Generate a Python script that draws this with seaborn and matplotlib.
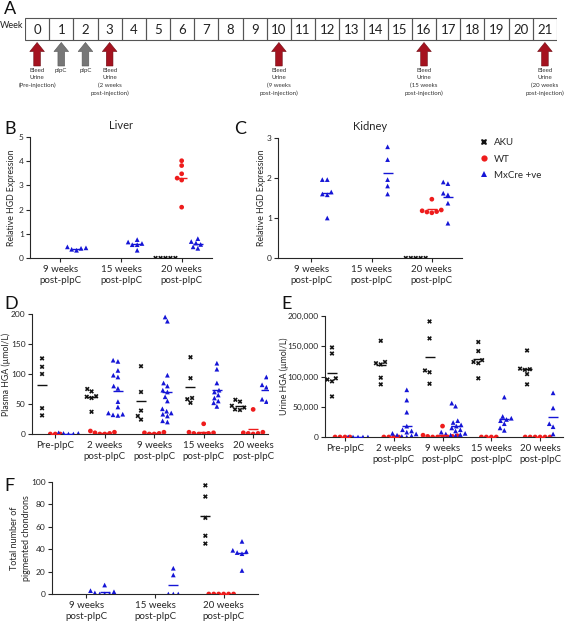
import pandas as pd
import matplotlib
matplotlib.use("Agg")
import matplotlib.pyplot as plt
import seaborn as sns
from matplotlib.lines import Line2D
from matplotlib.ticker import FuncFormatter


# groups and their look
groups = ["AKU", "WT", "MxCre +ve"]
group_colors = {"AKU": "#111111", "WT": "#ee1c1c", "MxCre +ve": "#1515d6"}
group_markers = {"AKU": "X", "WT": "o", "MxCre +ve": "^"}

# timeline (panel A)
weeks = list(range(22))
bleed_weeks = [0, 3, 10, 16, 21]
pipc_weeks = [1, 2]
event_labels = {
    0: "Bleed\nUrine\n(Pre-injection)",
    1: "pIpC",
    2: "pIpC",
    3: "Bleed\nUrine\n(2 weeks\npost-injection)",
    10: "Bleed\nUrine\n(9 weeks\npost-injection)",
    16: "Bleed\nUrine\n(15 weeks\npost-injection)",
    21: "Bleed\nUrine\n(20 weeks\npost-injection)",
}

tissue_times = ["9 weeks\npost-pIpC", "15 weeks\npost-pIpC", "20 weeks\npost-pIpC"]
hga_times = ["Pre-pIpC", "2 weeks\npost-pIpC", "9 weeks\npost-pIpC",
             "15 weeks\npost-pIpC", "20 weeks\npost-pIpC"]

# B - liver HGD expression
liver_aku = [[], [], [0, 0, 0, 0, 0]]
liver_wt = [[], [], [4.02, 3.82, 3.48, 3.3, 3.22, 2.1]]
liver_mx = [[0.46, 0.42, 0.4, 0.36, 0.32],
            [0.76, 0.66, 0.6, 0.55, 0.55, 0.32],
            [0.8, 0.68, 0.62, 0.56, 0.46, 0.4]]

# C - kidney HGD expression
kidney_aku = [[], [], [0, 0, 0, 0, 0]]
kidney_wt = [[], [], [1.47, 1.2, 1.18, 1.16, 1.15, 1.13]]
kidney_mx = [[1.96, 1.96, 1.65, 1.6, 1.58, 1.0],
             [2.78, 2.46, 1.96, 1.8, 1.6],
             [1.9, 1.86, 1.62, 1.58, 1.37, 0.87]]

# D - plasma HGA (umol/L)
plasma_aku = [[126, 112, 100, 43, 31],
              [75, 71, 63, 62, 60, 37],
              [113, 70, 39, 30, 24],
              [128, 93, 60, 58, 52],
              [57, 54, 47, 44, 41, 40]]
plasma_wt = [[0, 0, 0],
             [5, 3, 2, 1, 0, 0],
             [3, 2, 1, 0, 0],
             [17, 3, 2, 1, 1, 0, 0],
             [41, 3, 2, 1, 1, 0]]
plasma_mx = [[2, 1, 1, 0, 0],
             [123, 121, 106, 98, 95, 80, 76, 54, 45, 35, 33, 32, 31],
             [195, 188, 98, 85, 80, 73, 70, 62, 55, 42, 38, 35, 33, 30, 22, 20],
             [118, 108, 85, 73, 70, 65, 60, 55, 52, 46],
             [95, 82, 78, 58, 54]]

# E - urine HGA (umol/L)
urine_aku = [[148000, 138000, 97000, 95000, 92000, 67000],
             [159000, 124000, 122000, 120000, 98000, 87000],
             [191000, 163000, 110000, 107000, 88000],
             [157000, 142000, 127000, 124000, 122000, 97000],
             [143000, 113000, 112000, 111000, 104000, 87000]]
urine_wt = [[0, 0, 0, 0],
            [0, 0, 0, 0],
            [18000, 3000, 2000, 1000, 1000, 0, 0, 0, 0],
            [0, 0, 0, 0],
            [0, 0, 0, 0, 0, 0]]
urine_mx = [[0, 0, 0, 0, 0],
            [78000, 61000, 41000, 18000, 12000, 10000, 8000, 6000, 5000, 3000, 2000, 1000, 0],
            [56000, 51000, 27000, 24000, 20000, 18000, 15000, 12000, 10000, 8000,
             6000, 5000, 4000, 3000, 2000],
            [66000, 34000, 31000, 29000, 27000, 22000, 15000, 11000],
            [73000, 48000, 22000, 17000, 5000]]

# F - pigmented chondrons
chondron_aku = [[], [], [97, 87, 68, 52, 45]]
chondron_wt = [[], [], [0, 0, 0, 0, 0, 0]]
chondron_mx = [[8, 3, 2, 1, 0, 0, 0], [23, 17, 0, 0, 0], [47, 39, 38, 37, 36, 21]]


sns.set_style("ticks")
plt.rcParams["font.family"] = ["Lato", "DejaVu Sans"]
plt.rcParams["axes.linewidth"] = 0.8

W, H = 566, 624
fig = plt.figure(figsize=(W / 100, H / 100), dpi=100)


def box(x0, y0, x1, y1):
    # pixel box -> figure fraction
    return [x0 / W, 1 - y1 / H, (x1 - x0) / W, (y1 - y0) / H]


def long_table(times, aku, wt, mx):
    rows = []
    for g, vals in zip(groups, [aku, wt, mx]):
        for t, v in zip(times, vals):
            for y in v:
                rows.append((t, g, y))
    return pd.DataFrame(rows, columns=["time", "group", "value"])


def draw_panel(ax, df, times):
    for g in groups:
        sub = df[df["group"] == g]
        sns.swarmplot(data=sub, x="time", y="value", hue="group", order=times,
                      hue_order=groups, palette=group_colors, dodge=True,
                      marker=group_markers[g], size=3.4, linewidth=0,
                      legend=False, ax=ax)
    means = df.groupby(["time", "group"], as_index=False)["value"].mean()
    sns.stripplot(data=means, x="time", y="value", hue="group", order=times,
                  hue_order=groups, palette=group_colors, dodge=True, jitter=False,
                  marker="_", size=7.5, linewidth=1.0, legend=False, ax=ax)


def style_axes(ax, xlim, ylim, yticks, ylabel, label_x, label_size=6.3):
    ax.set_xlim(xlim)
    ax.set_ylim(ylim)
    ax.set_yticks(yticks)
    ax.set_xlabel("")
    ax.set_ylabel(ylabel, fontsize=label_size, linespacing=1.45)
    ax.yaxis.set_label_coords(label_x, 0.5)
    ax.patch.set_alpha(0)
    sns.despine(ax=ax)
    ax.tick_params(axis="x", labelsize=7, length=3, width=0.8, pad=2)
    ax.tick_params(axis="y", labelsize=6, length=3, width=0.8, pad=1.5)
    for lab in ax.get_xticklabels():
        lab.set_linespacing(1.3)


# ---- panel A: timeline
ax_a = fig.add_axes(box(25, 0, 557, 105))
ax_a.set_xlim(-0.5, 21.5)
ax_a.set_ylim(105, 0)
ax_a.axis("off")
ax_a.bar(weeks, 22, bottom=18, width=1, fill=False, edgecolor="#555555", linewidth=0.8)
for w in weeks:
    ax_a.text(w, 29.5, str(w), ha="center", va="center", fontsize=9.5, color="#222222")
ax_a.text(-0.55, 26, "Week", ha="right", va="center", fontsize=6.5, color="#222222")
for w in bleed_weeks + pipc_weeks:
    fc = "#a5121f" if w in bleed_weeks else "#777777"
    ec = "#6d0c14" if w in bleed_weeks else "#555555"
    ax_a.annotate("", xy=(w, 42.5), xytext=(w, 66),
                  arrowprops=dict(arrowstyle="simple,head_length=0.65,head_width=1.05,tail_width=0.48",
                                  fc=fc, ec=ec, lw=0.4, shrinkA=0, shrinkB=0),
                  annotation_clip=False)
    ax_a.text(w, 68, event_labels[w], ha="center", va="top", fontsize=4.4,
              linespacing=1.55, color="#333333")

# ---- panel B: liver
ax_b = fig.add_axes(box(30, 137, 212, 258))
draw_panel(ax_b, long_table(tissue_times, liver_aku, liver_wt, liver_mx), tissue_times)
style_axes(ax_b, (-0.5, 2.5), (0, 5), [0, 1, 2, 3, 4, 5], "Relative HGD Expression", -0.075)
ax_b.set_title("Liver", fontsize=8, pad=6)

# ---- panel C: kidney
ax_c = fig.add_axes(box(278, 138, 462, 258))
draw_panel(ax_c, long_table(tissue_times, kidney_aku, kidney_wt, kidney_mx), tissue_times)
style_axes(ax_c, (-0.55, 2.5), (0, 3), [0, 1, 2, 3], "Relative HGD Expression", -0.065)
ax_c.set_title("Kidney", fontsize=8, pad=6)

# ---- panel D: plasma HGA
ax_d = fig.add_axes(box(32, 314, 268, 434))
draw_panel(ax_d, long_table(hga_times, plasma_aku, plasma_wt, plasma_mx), hga_times)
style_axes(ax_d, (-0.47, 4.3), (0, 200), [0, 50, 100, 150, 200], "Plasma HGA (\u00b5mol/L)", -0.09)

# ---- panel E: urine HGA
ax_e = fig.add_axes(box(325, 316, 563, 437))
draw_panel(ax_e, long_table(hga_times, urine_aku, urine_wt, urine_mx), hga_times)
style_axes(ax_e, (-0.41, 4.47), (0, 200000), [0, 50000, 100000, 150000, 200000],
           "Urine HGA (\u00b5mol/L)", -0.152)
ax_e.yaxis.set_major_formatter(FuncFormatter(lambda v, p: f"{int(v):,}"))

# ---- panel F: chondrons
ax_f = fig.add_axes(box(52, 482, 258, 594))
draw_panel(ax_f, long_table(tissue_times, chondron_aku, chondron_wt, chondron_mx), tissue_times)
style_axes(ax_f, (-0.5, 2.5), (0, 100), [0, 20, 40, 60, 80, 100],
           "Total number of\npigmented chondrons", -0.1, label_size=6.5)

# legend
handles = [Line2D([], [], linestyle="none", marker=group_markers[g], color=group_colors[g],
                  markersize=4.5, markeredgewidth=0) for g in groups]
fig.legend(handles, groups, loc="center left", bbox_to_anchor=(470 / W, 1 - 159 / H),
           frameon=False, fontsize=7, handlelength=1, handletextpad=0.6, labelspacing=0.75)

# panel letters
for letter, x, y in [("A", 4, 9), ("B", 4, 129), ("C", 234, 129), ("D", 4, 304),
                     ("E", 281, 304), ("F", 4, 486)]:
    fig.text(x / W, 1 - y / H, letter, fontsize=13, va="center", ha="left", color="#111111")

fig.savefig("out.png", dpi=100)
